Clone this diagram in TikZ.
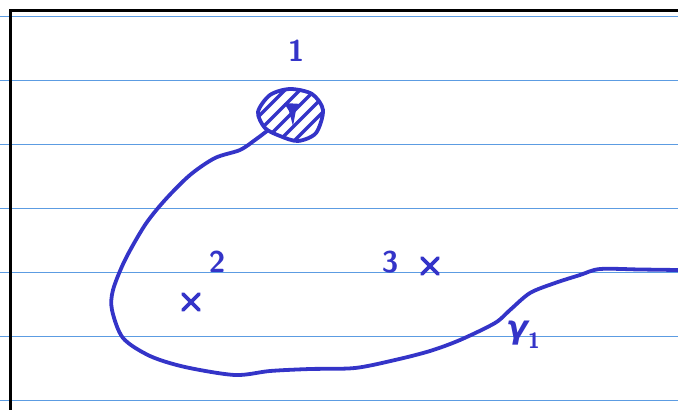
\documentclass[tikz,border=0pt]{standalone}
\usepackage{fontspec}
\usepackage{tikz}
\usetikzlibrary{positioning,calc}
\newfontfamily\greekfont{DejaVu Sans}
\definecolor{penblue}{HTML}{3434C8}
\definecolor{rulecol}{HTML}{5C9CE2}
\newcommand{\crossmark}[3]{% #1 name, #2 x, #3 y (pixel coords)
  \coordinate (#1) at (#2,#3);
  \draw[pen] ($(#1)+(-8,-8)$) -- ($(#1)+(8,8)$);
  \draw[pen] ($(#1)+(8,-8)$) -- ($(#1)+(-8,8)$);
}

\begin{document}
\begin{tikzpicture}[x=1pt,y=-1pt,
    pen/.style={draw=penblue, line width=3.8pt, line cap=round, line join=round},
    rule/.style={draw=rulecol, line width=1.5pt},
    lbl/.style={text=penblue, font=\sffamily\bfseries\fontsize{30}{30}\selectfont, inner sep=0pt}]
  \useasboundingbox (0,0) rectangle (678,410);
  % ruled paper
  \foreach \y in {16.5,80.5,144.5,208.5,272.5,336.5,400.5}
    \draw[rule] (0,\y) -- (678,\y);
  \draw[black, line width=3.5pt] (10.5,410) -- (10.5,10.5) -- (678,10.5);
  % labels
  \node[lbl] (one) at (296,51) {1};
  \node[lbl] (two) at (217,262) {2};
  \node[lbl] (three) at (390,262) {3};
  \node[lbl] (gam) at (523,335) {{\greekfont\bfseries\itshape\fontsize{32}{32}\selectfont γ}\raisebox{-10pt}{\fontsize{22}{22}\selectfont 1}};
  % marked points
  \crossmark{p2}{191}{302}
  \crossmark{p3}{430}{266}
  % shaded disc
  \begin{scope}
    \clip plot[smooth cycle] coordinates {(258,112) (270,95) (290,89) (312,94) (323,110) (316,133) (298,141) (280,136) (265,128)};
    \foreach \k in {-60,-45,...,60}
      \draw[pen, line width=3.2pt] (290+\k-40,155) -- (290+\k+40,75);
  \end{scope}
  \draw[pen] plot[smooth cycle] coordinates {(258,112) (270,95) (290,89) (312,94) (323,110) (316,133) (298,141) (280,136) (265,128)};
  \fill[penblue] (284,103) -- (302,104) -- (296,110) -- (293,126) -- (289,111) -- cycle;
  % the path
  \draw[pen] plot[smooth, tension=0.5] coordinates {(267,131) (255,140) (240,150) (215,158) (190,175) (165,200) (145,225) (125,260) (113,290) (112,310) (123,338) (150,356) (185,367) (235,375) (270,371) (310,369) (355,368) (395,360) (430,351) (460,340) (495,323) (510,310) (530,293) (555,283) (580,275) (600,269) (640,269.5) (678,270)};
\end{tikzpicture}
\end{document}
